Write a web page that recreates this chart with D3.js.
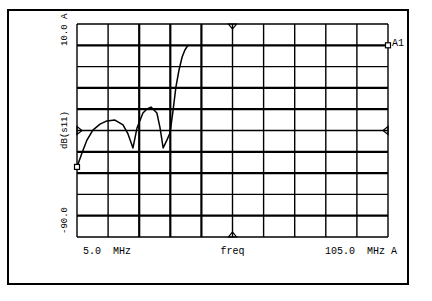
<!DOCTYPE html>
<html>
<head>
<meta charset="utf-8">
<script src="https://cdn.jsdelivr.net/npm/d3@7"></script>
<style>
  body { margin: 0; background: #fff; }
  text { font-family: "Liberation Mono", "DejaVu Sans Mono", monospace; font-size: 10px; fill: #000; white-space: pre; }
  text.v { font-size: 9px; }
</style>
</head>
<body>
<svg id="chart" width="432" height="301"></svg>
<script>
// trace: frequency (MHz) and dB(s11)
var freq = [5, 6.6, 8.2, 10.1, 12.4, 14.6, 17.2, 19.8, 21.4, 23.0, 24.3, 26.2, 27.5, 28.8, 30.7, 31.7, 32.7, 33.9, 34.9, 35.9, 36.8, 37.8, 38.8, 39.7, 40.7]
var s11 = [-57.1, -50.6, -44.5, -39.8, -37, -35.5, -35.1, -37.4, -41.6, -48.2, -38.8, -31.8, -29.9, -29.0, -31.8, -38.8, -48.2, -44.5, -41.2, -30.4, -19.6, -11.6, -5.5, -2.2, 0.1]
var xDomain = [5, 105]
var yDomain = [-90, 10]
var xTicks = d3.range(5, 106, 10)
var yTicks = d3.range(-90, 11, 10)
var markerA1 = {f: 105, db: 0, label: 'A1'}

var svg = d3.select('#chart')
var pLeft = 77, pRight = 388, pTop = 24, pBottom = 237

var x = d3.scaleLinear().domain(xDomain).range([pLeft, pRight])
var y = d3.scaleLinear().domain(yDomain).range([pBottom, pTop])

// outer frame
svg.append('rect')
  .attr('x', 8).attr('y', 10).attr('width', 400).attr('height', 274)
  .attr('fill', 'none').attr('stroke', '#000').attr('stroke-width', 2)

// grid
var thickX = [25, 35, 45], thickY = [0, -20, -30, -50, -60, -80]
var g = svg.append('g')
g.selectAll('line.v').data(xTicks).enter().append('line')
  .attr('x1', function(d) { return x(d) }).attr('x2', function(d) { return x(d) })
  .attr('y1', pTop).attr('y2', pBottom)
  .attr('stroke', '#000')
  .attr('stroke-width', function(d) { return thickX.indexOf(d) >= 0 ? 2.2 : 1.4 })
g.selectAll('line.h').data(yTicks).enter().append('line')
  .attr('y1', function(d) { return y(d) }).attr('y2', function(d) { return y(d) })
  .attr('x1', pLeft).attr('x2', pRight)
  .attr('stroke', '#000')
  .attr('stroke-width', function(d) { return thickY.indexOf(d) >= 0 ? 2.2 : 1.4 })

// reference pointers at center
var cx = x(55), cy = y(-40)
var tri = [
  [[cx - 4, pTop], [cx + 4, pTop], [cx, pTop + 5]],
  [[cx - 4, pBottom], [cx + 4, pBottom], [cx, pBottom - 5]],
  [[pLeft, cy - 4], [pLeft, cy + 4], [pLeft + 5, cy]],
  [[pRight, cy - 4], [pRight, cy + 4], [pRight - 5, cy]]
]
svg.selectAll('path.ref').data(tri).enter().append('path')
  .attr('d', function(d) { return 'M' + d.join('L') + 'Z' })
  .attr('fill', 'none').attr('stroke', '#000').attr('stroke-width', 1.2)

// trace
var pts = freq.map(function(f, i) { return [f, s11[i]] })
var line = d3.line().x(function(d) { return x(d[0]) }).y(function(d) { return y(d[1]) })
svg.append('path').datum(pts)
  .attr('d', line)
  .attr('fill', 'none').attr('stroke', '#000').attr('stroke-width', 1.5)
  .attr('stroke-linejoin', 'round')

// start marker
svg.append('rect')
  .attr('x', x(freq[0]) - 2.5).attr('y', y(s11[0]) - 2.5).attr('width', 5).attr('height', 5)
  .attr('fill', '#fff').attr('stroke', '#000').attr('stroke-width', 1.2)

// A1 marker
svg.append('rect')
  .attr('x', x(markerA1.f) - 2.5).attr('y', y(markerA1.db) - 2.5).attr('width', 5).attr('height', 5)
  .attr('fill', '#fff').attr('stroke', '#000').attr('stroke-width', 1.2)
svg.append('text')
  .attr('x', x(markerA1.f) + 4).attr('y', y(markerA1.db) + 1)
  .text(markerA1.label)

// y labels (rotated)
function vtext(tx, ty, s, anchor) {
  svg.append('text').attr('class', 'v')
    .attr('transform', 'translate(' + tx + ',' + ty + ') rotate(-90)')
    .attr('text-anchor', anchor)
    .text(s)
}
vtext(67, 46, yDomain[1].toFixed(1) + ' A', 'start')
vtext(67, 130, 'dB(s11)', 'middle')
vtext(67, 234, yDomain[0].toFixed(1), 'start')

// x labels
svg.append('text').attr('x', 83).attr('y', 254).text(xDomain[0].toFixed(1) + '  MHz')
svg.append('text').attr('x', x(55)).attr('y', 254).attr('text-anchor', 'middle').text('freq')
svg.append('text').attr('x', 397).attr('y', 254).attr('text-anchor', 'end').text(xDomain[1].toFixed(1) + '  MHz A')
</script>
</body>
</html>
